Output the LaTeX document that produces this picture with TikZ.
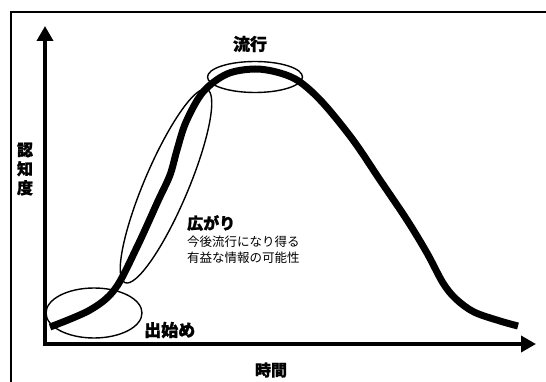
\documentclass[tikz,border=0pt]{standalone}
\usepackage{fontspec}
\newfontfamily\jp{Noto Sans CJK JP}[BoldFeatures={FakeBold=1.2}]
\usetikzlibrary{arrows.meta}
\begin{document}
\begin{tikzpicture}[x=1pt,y=-1pt,
  axis/.style={line width=3.6pt,-{Triangle[length=15pt,width=16pt]}},
  curve/.style={line width=7pt},
  ring/.style={line width=1.4pt},
  big/.style={font=\jp\bfseries\fontsize{16}{18}\selectfont, inner sep=0pt},
  small/.style={font=\jp\fontsize{12.5}{16}\selectfont, inner sep=0pt, align=left}]
\useasboundingbox (0,0) rectangle (546,382);
\fill[white] (0,0) rectangle (546,382);
% frame
\draw[line width=1.3pt] (11,390) -- (11,12) -- (560,12);
% axes
\coordinate (o) at (45,344);
\coordinate (ytip) at (45,26);
\coordinate (xtip) at (536,344);
\draw[axis] (45,346) -- (ytip);
\draw[axis] (43,344) -- (xtip);
% curve
\draw[curve] plot[smooth, tension=0.55] coordinates {
 (50,327) (90,310) (115,289) (137,247) (158,201) (170,175) (177,150) (186,122)
 (203,92) (227,74) (255,69) (280,73) (300,82) (323,103) (353,140) (380,180)
 (407,220) (427,253) (443,283) (456,299) (474,312) (500,321) (518,326)};
% ellipses
\coordinate (e1) at (94,313);
\coordinate (e2) at (166,186);
\coordinate (e3) at (255,77);
\draw[ring] (e1) ellipse [x radius=48pt, y radius=25pt];
\draw[ring, rotate around={67:(e2)}] (e2) ellipse [x radius=105pt, y radius=22pt];
\draw[ring] (e3) ellipse [x radius=47.5pt, y radius=15.5pt];
% labels
\node[big, font=\jp\bfseries\fontsize{17}{18}\selectfont] (ryuko) at (250,44) {流行};
\node[big, anchor=west] (hirogari) at (187,223) {広がり};
\node[small, anchor=west] (sub1) at (187,242) {今後流行になり得る};
\node[small, anchor=west] (sub2) at (187,258) {有益な情報の可能性};
\node[big, anchor=west, font=\jp\bfseries\fontsize{17}{18}\selectfont] (dehajime) at (144,330) {出始め};
\node[big] (jikan) at (271,370) {時間};
\node[big, align=center, font=\jp\bfseries\fontsize{16}{19}\selectfont] (ninchido) at (25,169) {認\\知\\度};
\end{tikzpicture}
\end{document}
